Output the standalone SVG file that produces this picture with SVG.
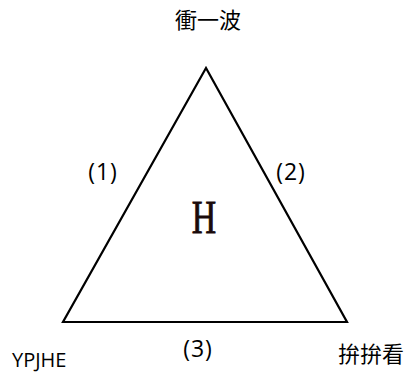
<svg xmlns="http://www.w3.org/2000/svg" width="410" height="374" viewBox="0 0 410 374">
<style>
.lbl{font-family:"Open Sans","Liberation Sans",sans-serif;font-size:23px;font-weight:500;fill:#000}
.cjk{font-family:"Noto Sans CJK TC","Noto Sans CJK SC",sans-serif;font-size:22px;fill:#000}
.edge{fill:none;stroke:#000;stroke-width:2.2;stroke-linejoin:miter}
</style>
<rect width="410" height="374" fill="#fff"/>
<g id="connectors">
<polygon class="edge" points="206,68 63,322 347,322"/>
</g>
<g id="node-top"><text class="cjk" x="208" y="28" text-anchor="middle">衝一波</text></g>
<g id="node-left"><text class="lbl" x="12" y="367" style="font-size:20px">YPJHE</text></g>
<g id="node-right"><text class="cjk" x="371" y="362" text-anchor="middle">拚拚看</text></g>
<g id="label-1"><text class="lbl" x="103" y="180" text-anchor="middle" letter-spacing="1">(1)</text></g>
<g id="label-2"><text class="lbl" x="291" y="180" text-anchor="middle" letter-spacing="1">(2)</text></g>
<g id="label-3"><text class="lbl" x="198" y="357" text-anchor="middle" letter-spacing="1">(3)</text></g>
<g id="center"><text transform="translate(204,233) scale(0.72,1)" text-anchor="middle" style="font-family:'Liberation Serif',serif;font-size:47px;fill:#1a0a0a;stroke:#1a0a0a;stroke-width:0.9">H</text></g>
</svg>
